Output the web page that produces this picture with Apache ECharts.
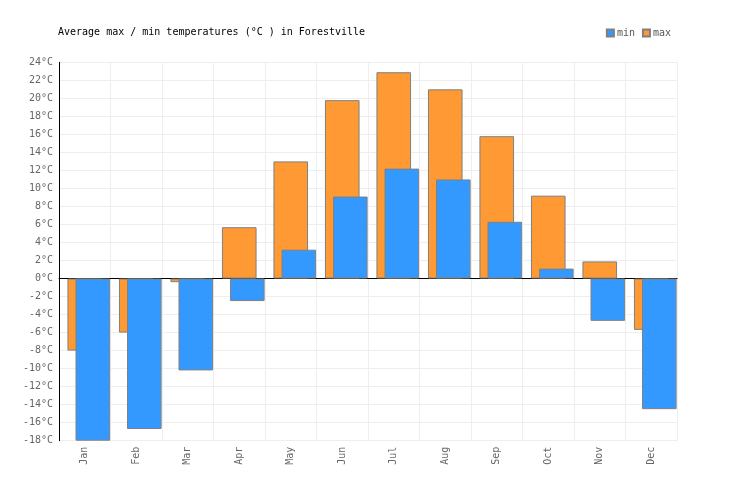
<!DOCTYPE html>
<html>
<head>
<meta charset="utf-8">
<script src="https://cdn.jsdelivr.net/npm/echarts@6/dist/echarts.min.js"></script>
<style>html,body{margin:0;padding:0;background:#fff;}#c{width:736px;height:500px;}</style>
</head>
<body>
<div id="c"></div>
<script>
var months = ['Jan','Feb','Mar','Apr','May','Jun','Jul','Aug','Sep','Oct','Nov','Dec'];
var maxTemps = [-8.0, -6.0, -0.4, 5.7, 13.0, 19.8, 22.9, 21.0, 15.8, 9.2, 1.9, -5.7];
var minTemps = [-18.0, -16.7, -10.2, -2.5, 3.2, 9.1, 12.2, 11.0, 6.3, 1.1, -4.7, -14.5];
var placeholder = [null, null, null, null, null, null, null, null, null, null, null, null];
var yMin = -18, yMax = 24, yStep = 2;

var font = '"DejaVu Sans Mono", "Liberation Mono", monospace';
var chart = echarts.init(document.getElementById('c'));
chart.setOption({
  animation: false,
  backgroundColor: '#fff',
  title: {
    text: 'Average max / min temperatures (°C ) in Forestville',
    left: 53, top: 22,
    textStyle: { fontFamily: font, fontSize: 10, fontWeight: 'normal', color: '#000' }
  },
  legend: {
    data: ['min', 'max'],
    right: 60, top: 23,
    itemWidth: 7, itemHeight: 7, itemGap: 7,
    icon: 'rect',
    textStyle: { fontFamily: font, fontSize: 10, color: '#555', padding: [0,0,0,-2] }
  },
  grid: { left: 59, right: 59, top: 62.3, bottom: 59.3 },
  xAxis: [{
    type: 'category',
    data: months,
    position: 'bottom',
    axisLine: { show: false, onZero: false },
    axisTick: { show: false },
    axisLabel: { rotate: 90, margin: 6, fontFamily: font, fontSize: 10, color: '#666', padding: [0,0,-3,0] },
    splitLine: { show: true, lineStyle: { color: '#eeeeee', width: 1 } }
  }, {
    type: 'category',
    data: months,
    position: 'bottom',
    axisLine: { show: true, onZero: true, lineStyle: { color: '#000', width: 1 } },
    axisTick: { show: false },
    axisLabel: { show: false },
    splitLine: { show: false }
  }],
  yAxis: {
    type: 'value',
    min: yMin, max: yMax, interval: yStep,
    axisLine: { show: true, lineStyle: { color: '#000', width: 1 } },
    axisTick: { show: false },
    axisLabel: { formatter: '{value}°C', margin: 6, fontFamily: font, fontSize: 10, color: '#666' },
    splitLine: { show: true, lineStyle: { color: '#eeeeee', width: 1 } }
  },
  series: [{
    name: 'pad', type: 'bar', xAxisIndex: 0, data: placeholder,
    barWidth: 34.6, barGap: '-76.7%', silent: true
  }, {
    name: 'max', type: 'bar', xAxisIndex: 0, data: maxTemps,
    barWidth: 34.6, barGap: '-76.7%',
    itemStyle: { color: '#FF9933', borderColor: '#808080', borderWidth: 1 }
  }, {
    name: 'min', type: 'bar', xAxisIndex: 0, data: minTemps,
    barWidth: 34.6, barGap: '-76.7%',
    itemStyle: { color: '#3399FF', borderColor: '#808080', borderWidth: 1 }
  }]
});
</script>
</body>
</html>
